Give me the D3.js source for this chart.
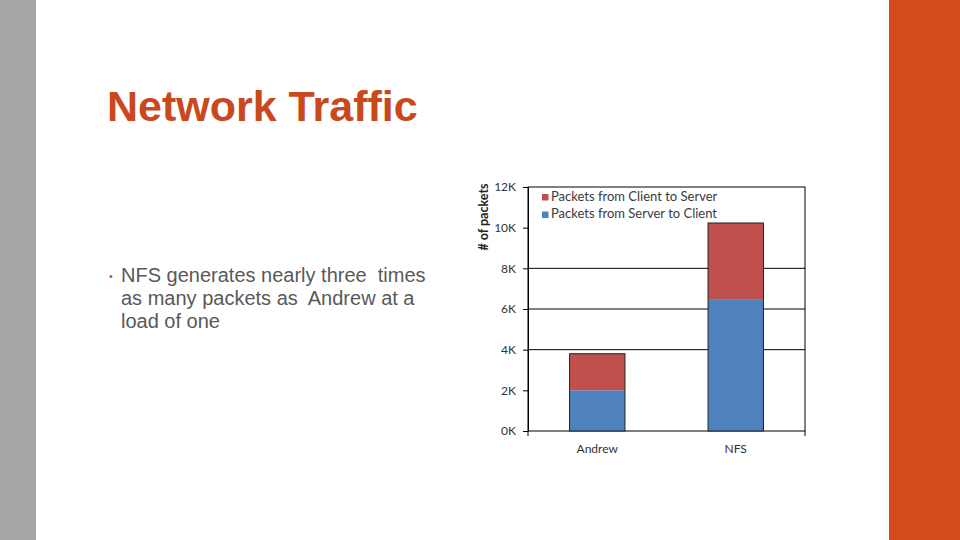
<!DOCTYPE html>
<meta charset="utf-8">
<style>
  body { margin: 0; background: #fff; }
  svg { display: block; font-family: "Liberation Sans", Arial, sans-serif; }
  .keep { white-space: pre; }
</style>
<body>
<script src="https://d3js.org/d3.v7.min.js"></script>
<div id="chart"></div>
<script>
  // chart data
  const categories = ["Andrew", "NFS"];
  const serverToClient = [2000, 6450];
  const clientToServer = [1800, 3780];
  const seriesNames = ["Packets from Client to Server", "Packets from Server to Client"];
  const yTicks = [0, 2000, 4000, 6000, 8000, 10000, 12000];
  const gridValues = [4000, 6000, 8000];
  const bullet = ["NFS generates nearly three  times", "as many packets as  Andrew at a", "load of one"];

  const width = 960, height = 540;
  const plot = { left: 528, right: 805, top: 187, bottom: 431 };

  const svg = d3.select("#chart").append("svg")
    .attr("width", width)
    .attr("height", height);

  // slide decoration
  svg.append("rect").attr("x", 0).attr("y", 0).attr("width", 36).attr("height", height).attr("fill", "#a8a5a5");
  svg.append("rect").attr("x", 889).attr("y", 0).attr("width", 71).attr("height", height).attr("fill", "#d34b1a");

  svg.append("text")
    .attr("x", 107).attr("y", 121)
    .attr("font-size", 43).attr("font-weight", "bold")
    .attr("fill", "#c9491d")
    .text("Network Traffic");

  svg.append("text")
    .attr("x", 109).attr("y", 280)
    .attr("font-size", 11).attr("fill", "#c9491d")
    .text("\u2022");

  svg.append("g").selectAll("text")
    .data(bullet)
    .join("text")
    .attr("class", "keep")
    .attr("x", 121)
    .attr("y", (d, i) => 281.5 + i * 23)
    .attr("font-size", 20)
    .attr("fill", "#595959")
    .text(d => d);

  // chart
  const x = d3.scaleBand()
    .domain(categories)
    .range([plot.left, plot.right])
    .paddingInner(0.6)
    .paddingOuter(0.3);

  const y = d3.scaleLinear()
    .domain([0, 12000])
    .range([plot.bottom, plot.top]);

  const chart = svg.append("g").attr("font-family", "Lato, sans-serif");

  // frame
  chart.append("rect")
    .attr("x", plot.left).attr("y", plot.top)
    .attr("width", plot.right - plot.left).attr("height", plot.bottom - plot.top)
    .attr("fill", "none").attr("stroke", "#000").attr("stroke-width", 1);

  chart.append("g").selectAll("line")
    .data(gridValues)
    .join("line")
    .attr("x1", plot.left).attr("x2", plot.right)
    .attr("y1", d => y(d)).attr("y2", d => y(d))
    .attr("stroke", "#000").attr("stroke-width", 1);

  const yAxis = chart.append("g")
    .attr("transform", `translate(${plot.left},0)`)
    .call(d3.axisLeft(y).tickValues(yTicks).tickSize(5).tickSizeOuter(0).tickPadding(7)
      .tickFormat(d => (d / 1000) + "K"));
  yAxis.select(".domain").attr("stroke", "#000");
  yAxis.selectAll(".tick line").attr("stroke", "#000");
  yAxis.selectAll(".tick text").attr("font-size", 12).attr("fill", "#333").attr("font-family", "Lato, sans-serif");

  // x axis end ticks
  chart.append("g").selectAll("line")
    .data(x.range())
    .join("line")
    .attr("x1", d => d).attr("x2", d => d)
    .attr("y1", plot.bottom).attr("y2", plot.bottom + 5)
    .attr("stroke", "#000");

  chart.append("g").selectAll("text")
    .data(categories)
    .join("text")
    .attr("x", d => x(d) + x.bandwidth() / 2)
    .attr("y", 453)
    .attr("text-anchor", "middle")
    .attr("font-size", 12).attr("fill", "#333")
    .text(d => d);

  chart.append("text")
    .attr("transform", "translate(488,217) rotate(-90)")
    .attr("text-anchor", "middle")
    .attr("font-size", 12.5).attr("font-weight", "bold").attr("fill", "#222")
    .text("# of packets");

  // stacked bars
  const stackData = categories.map((c, i) => ({ cat: c, s2c: serverToClient[i], c2s: clientToServer[i] }));
  const stacked = d3.stack().keys(["s2c", "c2s"])(stackData);
  const colors = { s2c: "#4f81bd", c2s: "#c0504d" };

  chart.append("g").selectAll("g")
    .data(stacked)
    .join("g")
    .attr("fill", d => colors[d.key])
    .selectAll("rect")
    .data(d => d)
    .join("rect")
    .attr("x", d => x(d.data.cat))
    .attr("width", x.bandwidth())
    .attr("y", d => y(d[1]))
    .attr("height", d => y(d[0]) - y(d[1]));

  // bar outlines
  chart.append("g").selectAll("rect")
    .data(stackData)
    .join("rect")
    .attr("x", d => x(d.cat))
    .attr("width", x.bandwidth())
    .attr("y", d => y(d.s2c + d.c2s))
    .attr("height", d => y(0) - y(d.s2c + d.c2s))
    .attr("fill", "none").attr("stroke", "#222").attr("stroke-width", 1);

  // legend
  const legend = chart.append("g");
  const legendColors = [colors.c2s, colors.s2c];
  legend.selectAll("rect")
    .data(seriesNames)
    .join("rect")
    .attr("x", 542).attr("y", (d, i) => 194 + i * 17.5)
    .attr("width", 6.5).attr("height", 6.5)
    .attr("fill", (d, i) => legendColors[i]);
  legend.selectAll("text")
    .data(seriesNames)
    .join("text")
    .attr("x", 551).attr("y", (d, i) => 200.5 + i * 17.5)
    .attr("font-size", 13).attr("fill", "#3a3a3a")
    .text(d => d);
</script>
</body>
